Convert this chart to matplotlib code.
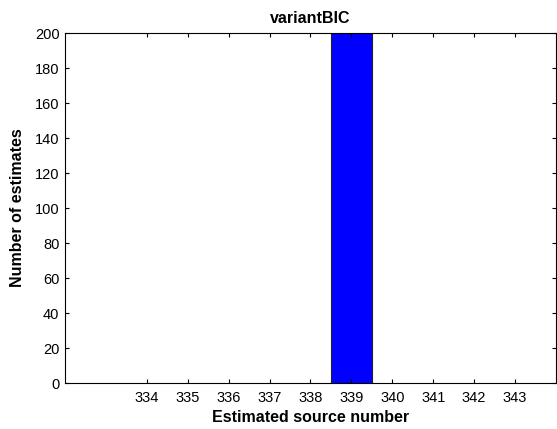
import matplotlib
matplotlib.use('Agg')
import matplotlib.pyplot as plt

plt.rcParams['font.family'] = ['Liberation Sans', 'DejaVu Sans']

# histogram of estimated source numbers
source_numbers = [339]
counts = [200]
xticks = [334, 335, 336, 337, 338, 339, 340, 341, 342, 343]
yticks = [0, 20, 40, 60, 80, 100, 120, 140, 160, 180, 200]

fig = plt.figure(figsize=(5.57, 4.29), dpi=100)
ax = fig.add_axes([0.1167, 0.107, 0.8813, 0.816])

ax.bar(source_numbers, counts, width=1.0, color='#0000ff', edgecolor='#222222', linewidth=0.8)

ax.set_xlim(332, 344)
ax.set_ylim(0, 200)
ax.set_xticks(xticks)
ax.set_yticks(yticks)
ax.tick_params(direction='in', top=True, right=True, length=3, width=0.8,
               labelsize=10.5, pad=4)
ax.tick_params(axis='x', pad=6)
for s in ax.spines.values():
    s.set_linewidth(0.8)

ax.set_title('variantBIC', fontsize=11.5, fontweight='bold', pad=7)
ax.set_xlabel('Estimated source number', fontsize=11.5, fontweight='bold', labelpad=3)
ax.set_ylabel('Number of estimates', fontsize=11.5, fontweight='bold', labelpad=7)

fig.savefig('out.png', dpi=100)
